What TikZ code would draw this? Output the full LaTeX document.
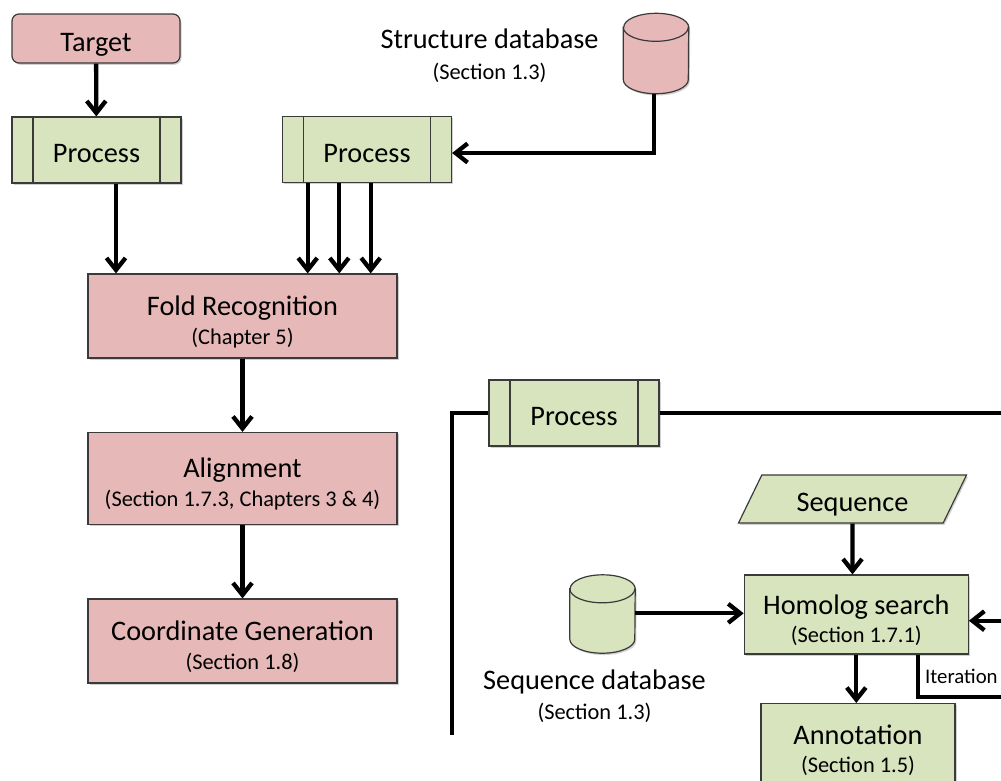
\documentclass[tikz,border=0pt]{standalone}
\usepackage{fontspec}
\setmainfont{Carlito}
\usetikzlibrary{arrows.meta,shapes.geometric,shadows}

\definecolor{pinkc}{HTML}{E6B9B8}
\definecolor{greenc}{HTML}{D7E4BD}
\definecolor{edgec}{HTML}{3A3A3A}

\newcommand\tsz{\fontsize{28.3pt}{28.7pt}\selectfont}
\newcommand\nsz{\fontsize{22.4pt}{26pt}\selectfont}
\newcommand\loopsz{\fontsize{20.8pt}{24pt}\selectfont}
\newcommand\toppad{\rule{0pt}{31pt}}

% database drum drawn around a named placeholder node
\newcommand\dbdrum[2]{%
  \path[fill=#2,draw=edgec,line width=1.2pt,softshadow]
    ([yshift=-14pt]#1.north west) -- ([yshift=14pt]#1.south west)
    arc[start angle=180,end angle=360,x radius=32.5pt,y radius=14pt]
    -- ([yshift=-14pt]#1.north east)
    arc[start angle=0,end angle=180,x radius=32.5pt,y radius=14pt] -- cycle;
  \draw[edgec,line width=1.2pt] ([yshift=-14pt]#1.north west)
    arc[start angle=180,end angle=360,x radius=32.5pt,y radius=14pt];}

\begin{document}
\begin{tikzpicture}[x=1pt,y=-1pt,
  softshadow/.style={drop shadow={shadow xshift=1.5pt,shadow yshift=-1.8pt,opacity=0.3,fill=black!60}},
  box/.style={draw=edgec,line width=1.2pt,inner sep=0pt,align=center,font=\tsz,softshadow},
  oneline/.style={text height=25pt,text depth=0pt},
  pinkbox/.style={box,fill=pinkc},
  greenbox/.style={box,fill=greenc},
  procbox/.style={greenbox,oneline,minimum width=169pt,minimum height=66pt,
    path picture={\draw[edgec,line width=1.2pt]
      ([xshift=21pt]path picture bounding box.north west) -- ([xshift=21pt]path picture bounding box.south west)
      ([xshift=-21pt]path picture bounding box.north east) -- ([xshift=-21pt]path picture bounding box.south east);}},
  drum/.style={inner sep=0pt,minimum width=65pt},
  txt/.style={inner sep=0pt,align=center,font=\tsz},
  wire/.style={line width=4.3pt,black},
  flow/.style={wire,-{Straight Barb[length=12pt,width=19pt]}}]

\clip (0,0) rectangle (1001,780);
\fill[white] (0,0) rectangle (1001,780);

% ---- structure-based branch ----
\node[pinkbox,oneline,rounded corners=7pt,minimum width=168pt,minimum height=49pt] (target) at (96,38.5) {Target};
\node[procbox] (p1) at (96.5,150) {Process};
\node[procbox] (p2) at (367,149.5) {Process};

\node[txt] (sdbtxt) at (489.5,56) {Structure database\\[2pt]{\nsz (Section 1.3)}};
\node[drum,minimum height=80pt] (sdb) at (656,53.5) {};
\dbdrum{sdb}{pinkc}

\node[pinkbox,minimum width=309pt,minimum height=84pt] (fold) at (242.5,316)
  {\toppad Fold Recognition\\{\nsz (Chapter 5)}};
\node[pinkbox,minimum width=309pt,minimum height=92pt] (aln) at (242.5,478.5)
  {\toppad Alignment\\{\nsz (Section 1.7.3, Chapters 3 \& 4)}};
\node[pinkbox,minimum width=309pt,minimum height=84pt] (coord) at (242.5,641)
  {\toppad Coordinate Generation\\{\nsz (Section 1.8)}};

\draw[flow] (target) -- (p1);
\draw[flow] ([xshift=19.5pt]p1.south) -- ([xshift=19.5pt]p1.south |- fold.north);
\foreach \dx in {-59.3,-27.7,3.7}
  \draw[flow] ([xshift=\dx pt]p2.south) -- ([xshift=\dx pt]p2.south |- fold.north);
\draw[flow] ([xshift=-2pt]sdb.south) |- ([yshift=-3.5pt]p2.east);
\draw[flow] (fold) -- (aln);
\draw[flow] (aln) -- (coord);

% ---- sequence-based branch ----
\node[procbox,minimum width=170pt] (p3) at (574,413) {Process};
\coordinate (leftend) at (452.3,735);
\coordinate (rightend) at (1010,413);
\draw[wire] (p3.west) -| (leftend);
\draw[wire] (p3.east) -- (rightend);

\node[greenbox,oneline,trapezium,trapezium left angle=47,trapezium right angle=133,
      trapezium stretches body,minimum width=228pt,minimum height=48pt] (seq) at (852.5,499) {Sequence};
\node[greenbox,minimum width=224pt,minimum height=79pt] (hom) at (856.3,614.5)
  {\toppad Homolog search\\{\nsz (Section 1.7.1)}};
\node[drum,minimum height=78pt] (qdb) at (602.5,614) {};
\dbdrum{qdb}{greenc}
\node[txt] (qdbtxt) at (594.5,696) {Sequence database\\[1pt]{\nsz (Section 1.3)}};
\node[greenbox,anchor=north,minimum width=194pt,minimum height=82pt] (ann) at (858,703)
  {\toppad Annotation\\[-1pt]{\nsz (Section 1.5)}};

\coordinate (loopin) at (1010,620.7);
\coordinate (loopout) at (1010,697);
\draw[flow] (seq) -- (seq |- hom.north);
\draw[flow] (qdb.east |- 0,613.3) -- (hom.west |- 0,613.3);
\draw[flow] (loopin) -- (loopin -| hom.east);
\draw[flow] (hom.south) -- (hom.south |- ann.north);
\draw[wire] ([xshift=62pt]hom.south) |- (loopout);
\node[txt,font=\loopsz,anchor=west] (iter) at (925,676) {Iteration};

\end{tikzpicture}
\end{document}
